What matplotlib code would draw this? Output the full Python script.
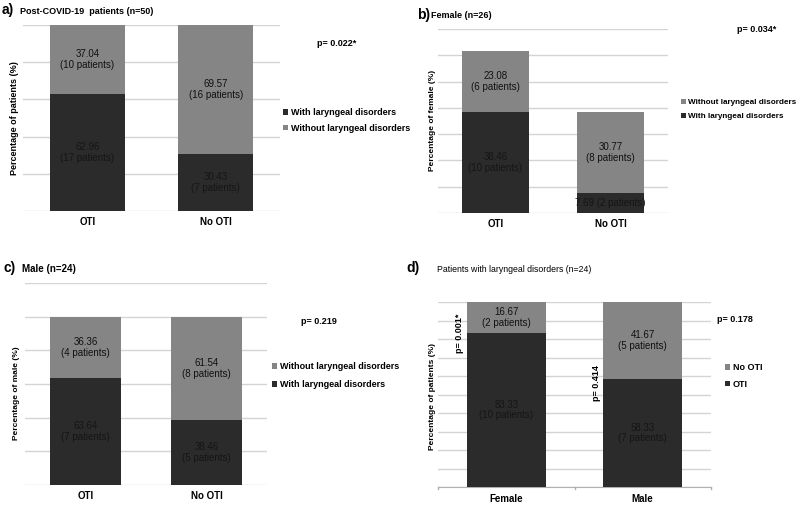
import matplotlib
matplotlib.use("Agg")
import matplotlib.pyplot as plt
from matplotlib.patches import Patch

plt.rcParams['font.family'] = ['Liberation Sans', 'DejaVu Sans']

W, H = 800, 505
DARK = '#2b2b2b'
LIGHT = '#858585'
GRID = '#d4d4d4'

# panel a) all post-COVID patients
a_cats = ['OTI', 'No OTI']
a_with = [62.96, 30.43]
a_without = [37.04, 69.57]
a_with_lbl = ['62.96\n(17 patients)', '30.43\n(7 patients)']
a_without_lbl = ['37.04\n(10 patients)', '69.57\n(16 patients)']

# panel b) female
b_cats = ['OTI', 'No OTI']
b_with = [38.46, 7.69]
b_without = [23.08, 30.77]
b_with_lbl = ['38.46\n(10 patients)', '7.69 (2 patients)']
b_without_lbl = ['23.08\n(6 patients)', '30.77\n(8 patients)']

# panel c) male
c_cats = ['OTI', 'No OTI']
c_with = [63.64, 38.46]
c_without = [36.36, 61.54]
c_with_lbl = ['63.64\n(7 patients)', '38.46\n(5 patients)']
c_without_lbl = ['36.36\n(4 patients)', '61.54\n(8 patients)']

# panel d) patients with laryngeal disorders
d_cats = ['Female', 'Male']
d_oti = [83.33, 58.33]
d_nooti = [16.67, 41.67]
d_oti_lbl = ['83.33\n(10 patients)', '58.33\n(7 patients)']
d_nooti_lbl = ['16.67\n(2 patients)', '41.67\n(5 patients)']


def px_axes(fig, left, top, right, bottom):
    return fig.add_axes([left / W, 1 - bottom / H, (right - left) / W, (bottom - top) / H])


def ftext(fig, x, y, s, **kw):
    fig.text(x / W, 1 - y / H, s, **kw)


def stacked(ax, cats, low, high, low_lbl, high_lbl, ymax, step, bottom_axis=False):
    xs = list(range(len(cats)))
    ax.bar(xs, low, width=0.58, color=DARK, zorder=3)
    ax.bar(xs, high, width=0.58, bottom=low, color=LIGHT, zorder=3)
    for x, lo, hi, l1, l2 in zip(xs, low, high, low_lbl, high_lbl):
        ax.text(x, lo / 2, l1, ha='center', va='center', fontsize=7, color='#151515',
                zorder=4, linespacing=1.1)
        ax.text(x, lo + hi / 2, l2, ha='center', va='center', fontsize=7, color='#111111',
                zorder=4, linespacing=1.1)
    ax.set_xlim(-0.5, len(cats) - 0.5)
    ax.set_ylim(0, ymax)
    ax.set_yticks(range(0, ymax + 1, step))
    ax.set_yticklabels([])
    ax.tick_params(axis='y', length=0, pad=0)
    ax.yaxis.grid(True, color=GRID, linewidth=1, zorder=0)
    ax.set_xticks(xs)
    ax.set_xticklabels(cats, fontsize=7, fontweight='bold')
    for s in ['top', 'right', 'left']:
        ax.spines[s].set_visible(False)
    if bottom_axis:
        ax.spines['bottom'].set_color('#b0b0b0')
        ax.tick_params(axis='x', length=0, pad=5)
        for b in [-0.5, 0.5, 1.5]:
            ax.plot([b, b], [0, -0.012 * ymax], color='#b0b0b0', lw=1, clip_on=False)
    else:
        ax.spines['bottom'].set_visible(False)
        ax.tick_params(axis='x', length=0, pad=4)
    ax.set_facecolor('none')


def ylab(ax, text, size, x_px):
    # y label placed at a pixel x position, centred on the axes
    ax.text(x_px / W, 0.5, text, transform=ax.figure.transFigure, rotation=90,
            fontsize=size, fontweight='bold', ha='center', va='center')
    ax.yaxis.label.set_visible(False)


def legend(fig, handles, x, y, size, spacing):
    fig.legend(handles=handles, bbox_to_anchor=(x / W, 1 - y / H), frameon=False,
               prop={'weight': 'bold', 'size': size}, handlelength=0.6, handleheight=0.6,
               handletextpad=0.25, labelspacing=spacing, borderaxespad=0, borderpad=0,
               loc='upper left')


fig = plt.figure(figsize=(8, 5.05), dpi=100)

dark = lambda t: Patch(facecolor=DARK, label=t)
light = lambda t: Patch(facecolor=LIGHT, label=t)

# a)
ax = px_axes(fig, 23, 25, 280, 211)
stacked(ax, a_cats, a_with, a_without, a_with_lbl, a_without_lbl, 100, 20)
fig.text(15 / W, 1 - 118 / H, 'Percentage of patients (%)', rotation=90, fontsize=6.5,
         fontweight='bold', ha='center', va='center')
legend(fig, [dark('With laryngeal disorders'), light('Without laryngeal disorders')],
       283, 108, 6.5, 0.75)
ftext(fig, 2, 10, 'a)', fontsize=10, fontweight='bold', va='center')
ftext(fig, 20, 11, 'Post-COVID-19  patients (n=50)', fontsize=6.5, fontweight='bold', va='center')
ftext(fig, 317, 43, 'p= 0.022*', fontsize=6.5, fontweight='bold', va='center')

# b)
ax = px_axes(fig, 438, 29, 668, 213)
stacked(ax, b_cats, b_with, b_without, b_with_lbl, b_without_lbl, 70, 10)
fig.text(432 / W, 1 - 120 / H, 'Percentage of female (%)', rotation=90, fontsize=6,
         fontweight='bold', ha='center', va='center')
legend(fig, [light('Without laryngeal disorders'), dark('With laryngeal disorders')],
       681, 99, 5.9, 0.75)
ftext(fig, 417, 15, 'b)', fontsize=10, fontweight='bold', va='center')
ftext(fig, 431, 15, 'Female (n=26)', fontsize=6.5, fontweight='bold', va='center')
ftext(fig, 737, 29, 'p= 0.034*', fontsize=6.5, fontweight='bold', va='center')

# c)
ax = px_axes(fig, 25, 283, 267, 485)
stacked(ax, c_cats, c_with, c_without, c_with_lbl, c_without_lbl, 120, 20)
fig.text(17 / W, 1 - 393 / H, 'Percentage of male (%)', rotation=90, fontsize=6,
         fontweight='bold', ha='center', va='center')
legend(fig, [light('Without laryngeal disorders'), dark('With laryngeal disorders')],
       272, 362, 6.5, 1.05)
ftext(fig, 3, 268, 'c)', fontsize=10, fontweight='bold', va='center')
ftext(fig, 22, 269, 'Male (n=24)', fontsize=7, fontweight='bold', va='center')
ftext(fig, 301, 321, 'p= 0.219', fontsize=6.5, fontweight='bold', va='center')

# d)
ax = px_axes(fig, 438, 302, 711, 487)
stacked(ax, d_cats, d_oti, d_nooti, d_oti_lbl, d_nooti_lbl, 100, 10, bottom_axis=True)
fig.text(432 / W, 1 - 396 / H, 'Percentage of patients (%)', rotation=90, fontsize=6,
         fontweight='bold', ha='center', va='center')
ax.text(-0.345, 83, 'p= 0.001*', rotation=90, ha='center', va='center', fontsize=6.5,
        fontweight='bold', zorder=5)
ax.text(0.66, 56, 'p= 0.414', rotation=90, ha='center', va='center', fontsize=6.5,
        fontweight='bold', zorder=5)
legend(fig, [light('No OTI'), dark('OTI')], 725, 363, 6.5, 0.85)
ftext(fig, 406, 268, 'd)', fontsize=10, fontweight='bold', va='center')
ftext(fig, 437, 269, 'Patients with laryngeal disorders (n=24)', fontsize=6.3, va='center')
ftext(fig, 717, 320, 'p= 0.178', fontsize=6.5, fontweight='bold', va='center')

fig.savefig('out.png', dpi=100)
